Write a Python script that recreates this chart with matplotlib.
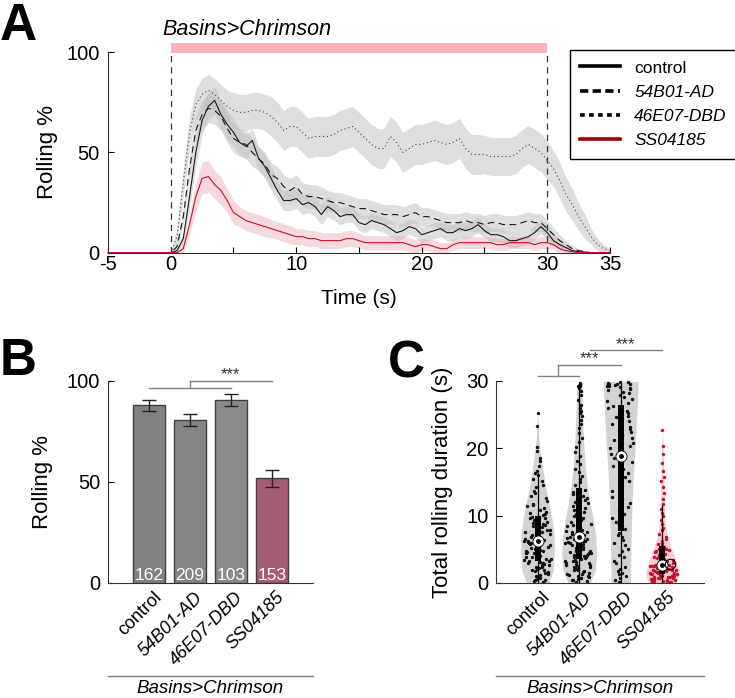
import numpy as np
import matplotlib
matplotlib.use("Agg")
import matplotlib.pyplot as plt
from matplotlib.lines import Line2D
from matplotlib.transforms import ScaledTranslation

plt.rcParams["font.family"] = ["Liberation Sans", "DejaVu Sans"]

# ---------------- panel A: rolling % over time (every 0.5 s, -5 .. 35 s)
time_s = np.arange(-5, 35.01, 0.5)
stim_on, stim_off = 0, 30

ctrl_mean = [0, 0, 0, 0, 0, 0, 0, 0, 0, 0,
             0, 1, 7, 28, 50, 66, 73, 76, 69, 64,
             60, 55, 53, 56, 47, 43, 37, 31, 26, 26,
             27, 24, 25, 23, 19, 23, 21, 18, 19, 19,
             15, 14, 16, 15, 14, 12, 10, 11, 13, 12,
             9, 10, 11, 12, 10, 10, 12, 11, 12, 14,
             11, 9, 9, 8, 6, 6, 7, 8, 10, 13,
             10, 6, 4, 2.5, 1, 0.5, 0.3, 0, 0, 0,
             0]
ctrl_sem = [0, 0, 0, 0, 0, 0, 0, 0, 0, 0,
            0, 1, 3, 6, 7, 7, 7, 7, 7, 7,
            7, 6, 6, 6, 6, 6, 6, 5, 5, 5,
            5, 5, 5, 5, 5, 5, 5, 4, 4, 4,
            4, 4, 4, 4, 4, 4, 4, 4, 4, 4,
            4, 4, 4, 4, 4, 4, 4, 4, 4, 4,
            3.5, 3.5, 3.5, 3.5, 3.5, 3.5, 3.5, 3.5, 3.5, 3.5,
            3.5, 3, 2.5, 2, 1, 0.5, 0.3, 0, 0, 0,
            0]

ad_mean = [0, 0, 0, 0, 0, 0, 0, 0, 0, 0,
           0, 3, 18, 42, 61, 69, 72, 71, 68, 62,
           57, 55, 54, 50, 47, 44, 39, 37, 33, 31,
           33, 29, 28, 28, 27, 26, 25, 25, 24, 23,
           22, 22, 21, 20, 19, 19, 19, 18, 19, 20,
           18, 18, 17, 16, 15, 15, 15, 16, 15, 15,
           14, 15, 15, 14, 14, 14, 15, 16, 15, 15,
           12, 9, 6, 4, 2, 1, 0.5, 0, 0, 0,
           0]
ad_sem = [0, 0, 0, 0, 0, 0, 0, 0, 0, 0,
          0, 2, 4, 6, 7, 7, 7, 7, 7, 7,
          7, 7, 7, 7, 6, 6, 6, 6, 6, 6,
          6, 6, 6, 6, 6, 5, 5, 5, 5, 5,
          5, 5, 5, 5, 5, 5, 5, 5, 5, 5,
          4.5, 4.5, 4.5, 4.5, 4.5, 4.5, 4.5, 4.5, 4.5, 4.5,
          4.5, 4.5, 4.5, 4.5, 4.5, 4.5, 4.5, 4.5, 4.5, 4.5,
          4, 3.5, 3, 2, 1.5, 1, 0.5, 0, 0, 0,
          0]

dbd_mean = [0, 0, 0, 0, 0, 0, 0, 0, 0, 0,
            0, 8, 35, 60, 74, 79, 81, 79, 76, 73,
            71, 70, 70, 71, 71, 70, 68, 65, 61, 63,
            63, 60, 57, 58, 58, 58, 59, 61, 62, 63,
            60, 57, 54, 52, 52, 58, 55, 50, 52, 54,
            54, 55, 56, 55, 54, 55, 57, 52, 49, 49,
            49, 48, 48, 48, 48, 49, 52, 54, 52, 50,
            46, 42, 36, 29, 24, 18, 13, 8, 4, 2,
            1]
dbd_sem = [0, 0, 0, 0, 0, 0, 0, 0, 0, 0,
           0, 4, 7, 8, 8, 8, 8, 8, 8, 8,
           9, 9, 9, 9, 9, 9, 10, 10, 10, 10,
           10, 10, 10, 10, 10, 10, 10, 10, 10, 10,
           10, 10, 10, 10, 10, 10, 10, 10, 10, 10,
           10, 10, 10, 10, 10, 10, 10, 10, 10, 10,
           9.5, 9.5, 9.5, 9.5, 9.5, 9.5, 9.5, 9.5, 9.5, 9.5,
           9.5, 9, 9, 8.5, 8, 7, 6, 4, 3, 2,
           1]

ss_mean = [0, 0, 0, 0, 0, 0, 0, 0, 0, 0,
           0, 0, 2, 14, 28, 37, 38, 34, 31, 26,
           20, 18, 16, 15, 14, 13, 12, 11, 10, 9,
           8, 8, 7, 7, 6, 6, 6, 6, 7, 7,
           6, 5, 5, 5, 5, 5, 5, 5, 4, 3,
           4, 4, 3, 2, 2, 4, 5, 5, 5, 5,
           5, 5, 4, 4, 5, 5, 5, 5, 4, 5,
           5, 4, 2, 1, 0.5, 0, 0, 0, 0, 0,
           0]
ss_sem = [0, 0, 0, 0, 0, 0, 0, 0, 0, 0,
          0, 0, 2, 5, 7, 8, 8, 7, 7, 6,
          6, 5, 5, 5, 5, 5, 4.5, 4.5, 4.5, 4.5,
          4, 4, 4, 4, 4, 4, 4, 4, 4, 4,
          3.5, 3.5, 3.5, 3.5, 3.5, 3.5, 3.5, 3.5, 3.5, 3.5,
          3, 3, 3, 3, 3, 3, 3, 3, 3, 3,
          3, 3, 3, 3, 3, 3, 3, 3, 3, 3,
          3, 2.5, 2, 1, 0.5, 0, 0, 0, 0, 0,
          0]

genotypes = ["control", "54B01-AD", "46E07-DBD", "SS04185"]

# ---------------- panel B: rolling % per genotype
bar_means = [88.0, 80.6, 90.5, 51.8]
bar_err = [2.7, 2.9, 2.9, 4.1]
bar_n = [162, 209, 103, 153]

# ---------------- panel C: total rolling duration (s)
ctrl_pts = [0.3, 6.5, 3.5, 10.1, 0.5, 6.6, 3.6, 10.4, 0.6, 6.8, 3.8, 10.6, 0.9, 7.0,
            4.0, 10.9, 1.1, 7.1, 4.1, 11.1, 1.2, 7.3, 4.3, 11.4, 1.4, 7.4, 4.4, 11.8,
            1.7, 7.6, 4.6, 12.2, 1.8, 7.8, 4.7, 12.6, 2.0, 7.9, 4.9, 12.9, 2.1, 8.1,
            5.0, 13.3, 2.3, 8.3, 5.1, 13.7, 2.4, 8.4, 5.3, 14.2, 2.6, 8.6, 5.4, 14.6,
            2.8, 8.8, 5.6, 15.1, 2.9, 9.0, 5.7, 15.5, 3.0, 9.1, 5.9, 16.0, 3.1, 9.3,
            6.0, 16.3, 3.2, 9.5, 6.1, 16.6, 0.2, 9.7, 6.2, 17.4, 0.8, 9.8, 3.9, 18.1,
            1.5, 6.9, 4.5, 18.6, 2.2, 7.5, 5.2, 19.6, 2.7, 8.2, 5.8, 20.2, 3.3, 8.9,
            6.3, 23.3, 0.4, 9.6, 4.8, 25.3, 1.9, 6.4, 3.4, 10.3, 11.6]
ad_pts = [0.2, 3.7, 6.9, 14.5, 0.3, 3.8, 7.1, 15.0, 0.5, 3.9, 7.3, 15.4, 0.6, 4.0,
          7.5, 15.9, 0.7, 4.1, 7.7, 16.5, 0.9, 4.2, 7.9, 17.0, 1.0, 4.3, 8.1, 17.6,
          1.1, 4.4, 8.4, 18.1, 1.3, 4.5, 8.6, 18.8, 1.4, 4.6, 8.9, 19.4, 1.5, 4.7,
          9.1, 20.2, 1.7, 4.8, 9.4, 20.9, 1.8, 4.9, 9.6, 21.6, 1.9, 5.0, 9.9, 22.3,
          2.0, 5.1, 10.2, 23.0, 2.1, 5.2, 10.5, 23.6, 2.3, 5.3, 10.8, 24.2, 2.4, 5.4,
          11.1, 24.8, 2.5, 5.5, 11.4, 25.2, 2.6, 5.6, 11.7, 25.6, 2.8, 5.7, 12.0,
          26.0, 2.9, 5.8, 12.3, 26.5, 3.0, 5.9, 12.6, 27.2, 3.1, 6.0, 12.9, 27.9,
          3.2, 6.1, 13.2, 28.5, 3.3, 6.2, 13.5, 28.9, 3.4, 6.3, 13.8, 29.2, 3.5,
          6.4, 14.0, 29.4, 0.4, 6.5, 7.6, 29.5, 1.2, 6.6, 8.8, 29.6, 2.2, 6.7, 10.0,
          29.7, 2.7, 4.35, 11.9, 29.3]
dbd_pts = [0.2, 8.0, 19.2, 26.7, 0.5, 8.6, 19.6, 27.0, 0.8, 9.1, 20.0, 27.3, 1.1,
           9.7, 20.4, 27.6, 1.5, 10.2, 20.8, 27.9, 1.8, 10.8, 21.2, 28.2, 2.1, 11.3,
           21.6, 28.4, 2.4, 11.9, 22.0, 28.6, 2.9, 12.4, 22.4, 28.8, 3.3, 13.0, 22.8,
           29.0, 3.8, 13.6, 23.2, 29.1, 4.2, 14.1, 23.6, 29.2, 4.7, 14.7, 24.0, 29.3,
           5.1, 15.2, 24.4, 29.4, 5.6, 15.8, 24.8, 29.5, 6.0, 16.3, 25.2, 29.5, 6.4,
           16.9, 25.6, 29.6, 6.8, 17.4, 26.0, 29.6, 7.1, 18.0, 26.3, 29.7, 7.4, 18.5,
           22.6, 29.8, 1.3, 12.7, 24.6, 29.8]
ss_pts = [0.1, 1.35, 2.8, 5.6, 0.15, 1.4, 2.9, 5.8, 0.2, 1.45, 3.0, 6.0, 0.25, 1.5,
          3.1, 6.3, 0.3, 1.55, 3.2, 6.6, 0.35, 1.6, 3.3, 6.9, 0.4, 1.7, 3.4, 7.3,
          0.45, 1.75, 3.5, 7.8, 0.5, 1.8, 3.6, 8.2, 0.55, 1.9, 3.7, 8.8, 0.6, 1.95,
          3.8, 9.3, 0.65, 2.0, 3.9, 9.9, 0.7, 2.05, 4.0, 10.4, 0.75, 2.1, 4.1, 11.0,
          0.8, 2.2, 4.2, 11.7, 0.85, 2.25, 4.3, 12.5, 0.9, 2.3, 4.4, 13.4, 0.95, 2.35,
          4.5, 14.3, 1.0, 2.4, 4.6, 15.1, 1.05, 2.45, 4.8, 15.8, 1.1, 2.5, 4.9, 16.6,
          1.15, 2.55, 5.0, 17.8, 1.2, 2.6, 5.1, 19.2, 1.25, 2.65, 5.3, 20.3, 1.3, 2.7,
          5.4, 22.7]
points = [ctrl_pts, ad_pts, dbd_pts, ss_pts]

# violin outlines: height (s) -> half width (category units)
ctrl_shape_y = [0, 0.2, 1.9, 4.4, 6.9, 9.4, 11.8, 14.3, 16.8, 18.8, 21.7, 24, 25.3]
ctrl_shape_w = [0.27, 0.28, 0.38, 0.40, 0.40, 0.35, 0.28, 0.19, 0.13, 0.08, 0.03, 0.015, 0]
ad_shape_y = [0, 0.2, 1.9, 4.4, 6.9, 9.4, 11.8, 14.3, 16.8, 21.7, 26.7, 29.3, 29.8]
ad_shape_w = [0.27, 0.28, 0.39, 0.42, 0.40, 0.34, 0.26, 0.20, 0.15, 0.10, 0.07, 0.06, 0]
dbd_shape_y = [0, 0.2, 1.9, 6.9, 11.8, 16.8, 21.7, 26.7, 29.9, 29.95]
dbd_shape_w = [0.22, 0.23, 0.24, 0.25, 0.27, 0.31, 0.36, 0.40, 0.42, 0]
ss_shape_y = [0, 0.2, 1.4, 2.4, 3.9, 5.4, 6.9, 9.4, 11.8, 16.8, 20, 22.7]
ss_shape_w = [0.33, 0.34, 0.41, 0.37, 0.29, 0.20, 0.12, 0.06, 0.05, 0.03, 0.02, 0]
shapes = [(ctrl_shape_y, ctrl_shape_w), (ad_shape_y, ad_shape_w),
          (dbd_shape_y, dbd_shape_w), (ss_shape_y, ss_shape_w)]

box_med = [6.3, 6.8, 18.9, 2.7]
box_q1 = [3.3, 3.6, 7.7, 1.3]
box_q3 = [9.9, 14.1, 26.5, 5.5]
whisk_lo = [0, 0, 0, 0]
whisk_hi = [16.3, 29.6, 29.7, 11.6]

# ---------------- figure
fig = plt.figure(figsize=(7.35, 6.98), dpi=100)

GREY_BAND = "#bfbfbf"
RED = "#c8102e"

# ===== A
axA = fig.add_axes([0.1469, 0.6380, 0.6830, 0.2871])
series = [
    (ctrl_mean, ctrl_sem, "#1a1a1a", "-", GREY_BAND, 0.5),
    (ad_mean, ad_sem, "#1a1a1a", (0, (6, 4)), GREY_BAND, 0.5),
    (dbd_mean, dbd_sem, "#444444", (0, (1, 2.5)), GREY_BAND, 0.5),
    (ss_mean, ss_sem, RED, "-", "#e8a0aa", 0.4),
]
for m, s, c, ls, bc, ba in series:
    m = np.array(m, float)
    s = np.array(s, float)
    axA.fill_between(time_s, np.clip(m - s, 0, None), m + s, color=bc, alpha=ba, lw=0)
for m, s, c, ls, bc, ba in series:
    axA.plot(time_s, m, color=c, ls=ls, lw=0.8, zorder=3, clip_on=False)

axA.fill_between([stim_on, stim_off], 99.5, 104.5, color="#ffb1ba", lw=0, clip_on=False)
axA.vlines([stim_on, stim_off], 0, 100, colors="#333333", linestyles=(0, (5, 4)), lw=0.9)
axA.text(-0.64, 108.8, "Basins>Chrimson", style="italic", fontsize=15.5,
         ha="left", va="baseline")

axA.set_xlim(-5, 35)
axA.set_ylim(0, 100)
axA.set_xticks([-5, 0, 5, 10, 15, 20, 25, 30, 35])
axA.set_xticklabels(["-5", "0", "", "10", "", "20", "", "30", "35"])
axA.set_yticks([0, 50, 100])
axA.tick_params(axis="x", direction="in", length=4, width=0.8, pad=1.5, labelsize=14.5)
axA.tick_params(axis="y", direction="in", length=4, width=0.8, pad=6, labelsize=14.5)
axA.spines[["top", "right"]].set_visible(False)
for sp in ("left", "bottom"):
    axA.spines[sp].set_color("#333333")
axA.set_ylabel("Rolling %", fontsize=16)
axA.yaxis.set_label_coords(-0.10, 0.5)
axA.set_xlabel("Time (s)", fontsize=15)
axA.xaxis.set_label_coords(0.5, -0.18)
axA.xaxis.label.set_va("top")

handles = [
    Line2D([], [], color="k", lw=2.6, ls="-"),
    Line2D([], [], color="k", lw=2.6, ls=(0, (2.3, 1.2))),
    Line2D([], [], color="k", lw=2.6, ls=(0, (1.3, 1.2))),
    Line2D([], [], color="#a00000", lw=2.6, ls="-"),
]
leg = axA.legend(handles, genotypes, loc="upper left",
                 bbox_to_anchor=(570 / 735, 1 - 50 / 698), bbox_transform=fig.transFigure,
                 frameon=True, fancybox=False, edgecolor="k", framealpha=1,
                 fontsize=12.5, handlelength=2.3, handletextpad=0.8,
                 labelspacing=0.52, borderpad=0.6, borderaxespad=0)
leg.get_frame().set_linewidth(1.0)
for txt in leg.get_texts()[1:]:
    txt.set_style("italic")

fig.text(0.0, 1 - 40 / 698, "A", fontsize=37, fontweight="bold", ha="left", va="baseline")


# shared helper for B/C x labels
def genotype_axis(ax):
    ax.set_xticks([])
    off = ScaledTranslation(0.10, -0.12, fig.dpi_scale_trans)
    tr = ax.get_xaxis_transform() + off
    for i, name in enumerate(genotypes):
        ax.text(i + 1, 0, name, transform=tr, rotation=45, ha="right", va="center",
                rotation_mode="anchor", fontsize=13,
                style="normal" if i == 0 else "italic")
    ax.plot([0, 1], [-0.46, -0.46], transform=ax.transAxes, color="#808080",
            lw=1, clip_on=False)
    ax.text(0.5, -0.478, "Basins>Chrimson", transform=ax.transAxes, ha="center",
            va="top", style="italic", fontsize=13.5)
    ax.spines[["top", "right"]].set_visible(False)
    for sp in ("left", "bottom"):
        ax.spines[sp].set_color("#333333")
    ax.tick_params(axis="y", direction="in", length=4, width=0.8, pad=5.5, labelsize=14.5)


# ===== B
axB = fig.add_axes([0.1469, 0.1648, 0.2789, 0.2894])
xpos = np.arange(1, 5)
bar_colors = ["#828282", "#858585", "#8a8a8a", "#a55a76"]
axB.bar(xpos, bar_means, width=0.8, color=bar_colors, edgecolor="#404040", lw=1)
axB.errorbar(xpos, bar_means, yerr=bar_err, fmt="none", ecolor="#222222",
             elinewidth=1, capsize=5, capthick=1)
for xi, n in zip(xpos, bar_n):
    axB.text(xi, 1.5, str(n), color="white", ha="center", va="baseline", fontsize=12.5)
axB.set_xlim(0, 5)
axB.set_ylim(0, 100)
axB.set_yticks([0, 50, 100])
genotype_axis(axB)
axB.set_ylabel("Rolling %", fontsize=16)
axB.yaxis.set_label_coords(-0.268, 0.5)

sig_col = "#808080"
axB.plot([1, 3], [96.5, 96.5], color=sig_col, lw=1, clip_on=False)
axB.plot([2, 2], [96.5, 100], color=sig_col, lw=1, clip_on=False)
axB.plot([2, 4], [100, 100], color=sig_col, lw=1, clip_on=False)
axB.text(3, 101, "***", ha="center", va="baseline", fontsize=12, color="#333333")

fig.text(0.0, 1 - 375 / 698, "B", fontsize=37, fontweight="bold", ha="left", va="baseline")

# ===== C
axC = fig.add_axes([0.6748, 0.1648, 0.2830, 0.2894])
violin_fill = ["#d3d3d3", "#d3d3d3", "#d3d3d3", "#f5cdd4"]
dot_col = ["#111111", "#111111", "#111111", RED]
for i, (pos, (sy, sw)) in enumerate(zip(xpos, shapes)):
    sy = np.array(sy, float)
    sw = np.array(sw, float)
    axC.fill_betweenx(sy, pos - sw, pos + sw, color=violin_fill[i], lw=0, zorder=1)
    vals = np.array(points[i], float)
    k = np.arange(len(vals))
    # deterministic hash-style spread inside the violin
    frac = np.abs(np.sin(k * 12.9898 + vals * 78.233 + i) * 43758.5453) % 1.0
    half = np.interp(vals, sy, sw)
    xs = pos + (frac * 2 - 1) * half * 0.85
    axC.scatter(xs, vals, s=6, color=dot_col[i], lw=0, zorder=2)
    axC.vlines(pos, whisk_lo[i], whisk_hi[i], color="k", lw=0.9, zorder=3)
    axC.vlines(pos, box_q1[i], box_q3[i], color="k", lw=4.3, zorder=3)
    axC.plot(pos, box_med[i], "o", ms=8, mfc="white", mec="k", mew=0.6, zorder=4)
    axC.plot(pos, box_med[i], "o", ms=2.5, color="k", zorder=5)
axC.plot(xpos[3] + 0.19, box_med[3] + 0.1, "o", ms=7.5, mfc="none", mec="k", mew=0.8, zorder=5)

axC.set_xlim(0, 5)
axC.set_ylim(0, 30)
axC.set_yticks([0, 10, 20, 30])
genotype_axis(axC)
axC.set_ylabel("Total rolling duration (s)", fontsize=16)
axC.yaxis.set_label_coords(-0.207, 0.5)

axC.plot([1, 2], [30.8, 30.8], color=sig_col, lw=1, clip_on=False)
axC.plot([1.5, 1.5], [30.8, 32.4], color=sig_col, lw=1, clip_on=False)
axC.plot([1.5, 3], [32.4, 32.4], color=sig_col, lw=1, clip_on=False)
axC.text(2.25, 32.6, "***", ha="center", va="baseline", fontsize=12, color="#333333")
axC.plot([2.25, 4], [34.6, 34.6], color=sig_col, lw=1, clip_on=False)
axC.text(3.125, 34.8, "***", ha="center", va="baseline", fontsize=12, color="#333333")

fig.text(388 / 735, 1 - 377 / 698, "C", fontsize=37, fontweight="bold", ha="left", va="baseline")

fig.savefig("out.png", dpi=100)
